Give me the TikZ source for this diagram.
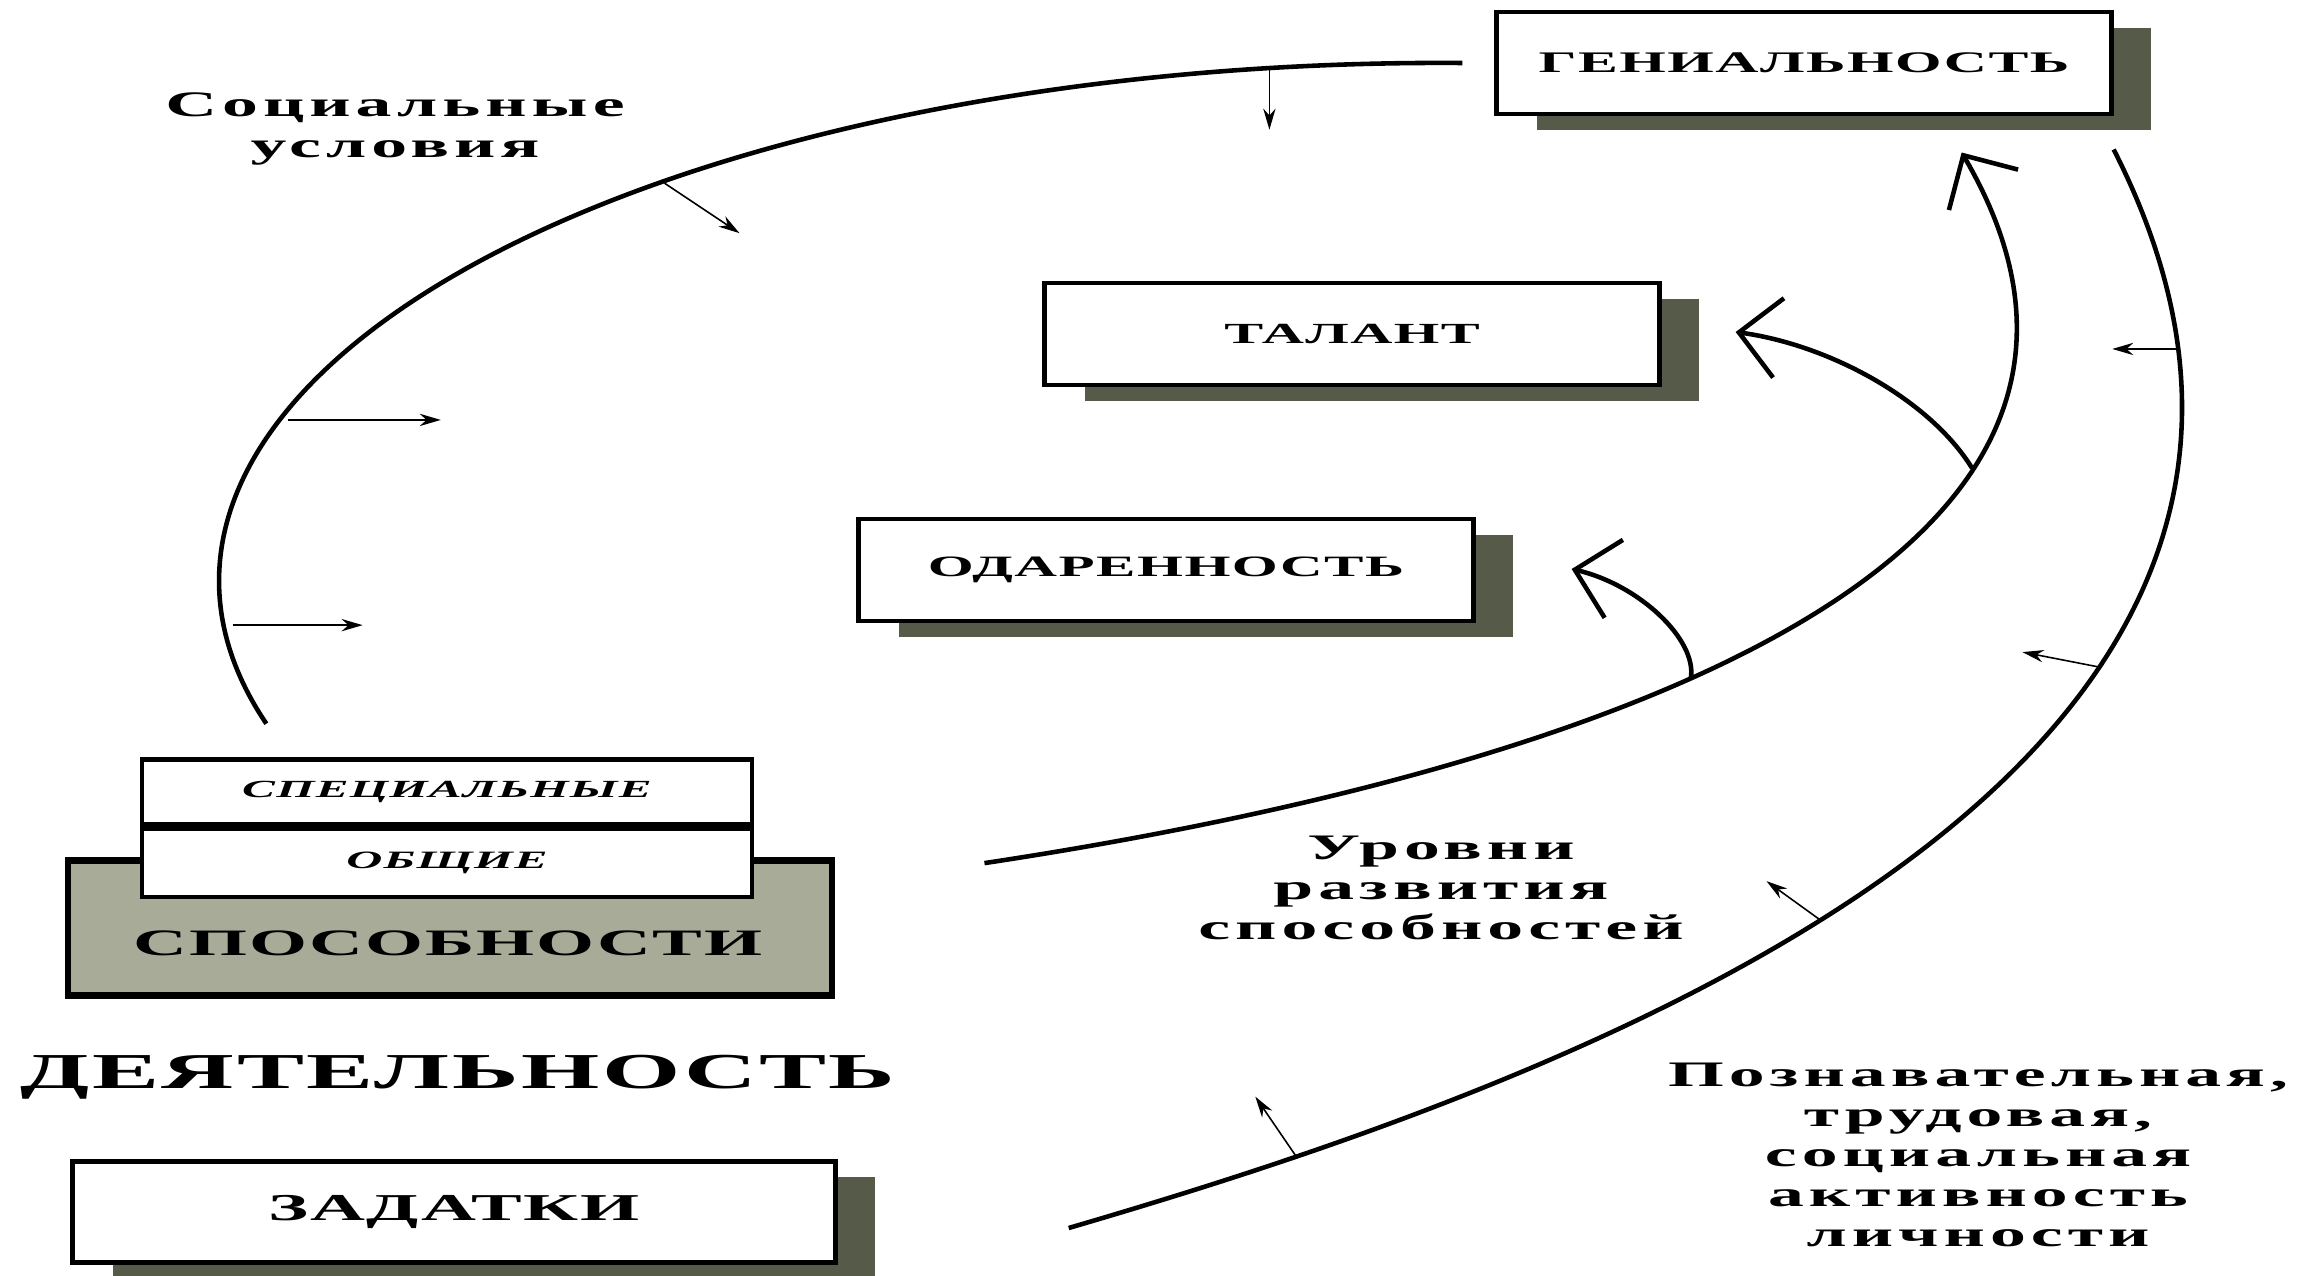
\documentclass[tikz,border=0pt]{standalone}
\usepackage{fontspec}
\setmainfont{Liberation Serif}
\newfontfamily\widefont[FakeStretch=2.0,LetterSpace=5]{Liberation Serif}
\newfontfamily\labelfont[FakeStretch=2.0,LetterSpace=14]{Liberation Serif}
\usepackage{tikz}
\usetikzlibrary{shadows}
\usetikzlibrary{arrows.meta}
\usetikzlibrary{calc}
\definecolor{shade}{RGB}{86,90,72}
\definecolor{abilgray}{RGB}{168,171,152}

\begin{document}
\begin{tikzpicture}[x=0.01cm,y=-0.01cm,
    lvl/.style={draw,line width=1.4pt,fill=white,minimum width=6.14cm,minimum height=1.02cm,inner sep=0pt,
      drop shadow={shadow xshift=0.4cm,shadow yshift=-0.16cm,fill=shade,opacity=1}},
    curve/.style={line width=1.3pt},
    bigtip/.style={-{Straight Barb[length=0.4cm,width=0.8cm]}},
    small/.style={line width=0.45pt,-{Stealth[length=6pt,width=3.5pt]}},
    lbl/.style={align=center,font=\labelfont\bfseries\fontsize{10.2}{11.4}\selectfont}]
        \useasboundingbox (0,0) rectangle (2300,1276);
        % levels
        \node[lvl] (genius) at (1804,63) {\widefont\bfseries\fontsize{8.5}{10}\selectfont ГЕНИАЛЬНОСТЬ};
        \node[lvl] (talent) at (1352,334) {\widefont\bfseries\fontsize{8.3}{10}\selectfont ТАЛАНТ};
        \node[lvl] (gift) at (1166,570) {\widefont\bfseries\fontsize{8.4}{10}\selectfont ОДАРЕННОСТЬ};
        % abilities
        \node[draw,line width=1.8pt,fill=abilgray,minimum width=7.64cm,minimum height=1.35cm] (abil) at (450,928) {};
        \node (abiltext) at (448,943) {\widefont\bfseries\fontsize{10.6}{12}\selectfont СПОСОБНОСТИ};
        \node[draw,line width=1.3pt,fill=white,minimum width=6.1cm,minimum height=0.65cm] (special) at (447,792) {\widefont\bfseries\itshape\fontsize{7.0}{8}\selectfont СПЕЦИАЛЬНЫЕ};
        \node[draw,line width=1.3pt,fill=white,minimum width=6.1cm,minimum height=0.68cm,anchor=north] (general) at (special.south) {\widefont\bfseries\itshape\fontsize{7.1}{8}\selectfont ОБЩИЕ};
        \node (activity) at (458,1077) {\widefont\bfseries\fontsize{14.3}{16}\selectfont ДЕЯТЕЛЬНОСТЬ};
        \node[lvl,minimum width=7.62cm,minimum height=1.01cm] (zadatki) at (454,1212) {\widefont\bfseries\fontsize{10.8}{12}\selectfont ЗАДАТКИ};
        % labels
        \node[lbl] (social) at (395,129) {Социальные\\условия};
        \node[lbl] (levels) at (1441,888) {Уровни\\развития\\способностей};
        \node[lbl] (activ) at (1978,1155) {Познавательная,\\трудовая,\\социальная\\активность\\личности};
        % social conditions
        \coordinate (socC) at (1450,580);
        \coordinate (socS) at ($(genius.west)+(-32,0)$);
        \draw[curve] (socS) arc[start angle=-89,end angle=-196,x radius=1222,y radius=518];
        \draw[small] ($(socC)+(-98.5:1222 and 518)$) -- ++(0,62);
        \draw[small] ($(socC)+(-130:1222 and 518)$) -- ++(75,50);
        \draw[small] ($(socC)+(-162:1222 and 518)$) -- ++(153,0);
        \draw[small] ($(socC)+(-185:1222 and 518)$) -- ++(130,0);
        % activity of the person
        \coordinate (outS) at ($(genius.south east)+(0,33)$);
        \coordinate (outE) at ($(zadatki.east)+(231,16)$);
        \draw[curve] (outS) .. controls (2440,790) and (1516,1097) .. (outE)
          coordinate[pos=0.11] (o1) coordinate[pos=0.32] (o2) coordinate[pos=0.54] (o3) coordinate[pos=0.85] (o4);
        \draw[small] (o1) -- ++(-66,0);
        \draw[small] (o2) -- ++(-77,-15);
        \draw[small] (o3) -- ++(-54,-39);
        \draw[small] (o4) -- ++(-41,-60);
        % levels of development
        \coordinate (lvS) at ($(general.east)+(230,0)$);
        \coordinate (gtip) at ($(genius.south east)+(-152,36)$);
        \coordinate (ttip) at ($(talent.east)+(74,-2)$);
        \coordinate (otip) at ($(gift.east)+(96,-1)$);
        \draw[curve,bigtip] (lvS) .. controls (1600,770) and (2200,560) .. (gtip)
          coordinate[pos=0.42] (b1) coordinate[pos=0.7] (b2);
        \draw[curve,bigtip] (b2) .. controls (1930,400) and (1830,345) .. (ttip);
        \draw[curve,bigtip] (b1) .. controls (1697,640) and (1640,585) .. (otip);
      \end{tikzpicture}
\end{document}
